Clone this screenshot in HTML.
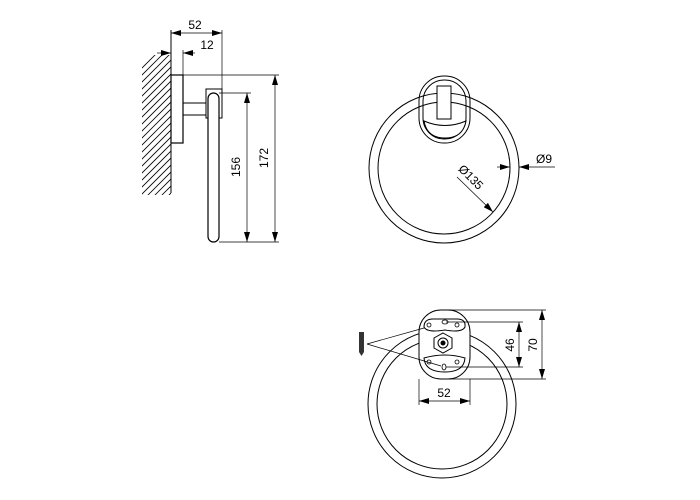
<!DOCTYPE html>
<html><head><meta charset="utf-8"><style>html,body{margin:0;padding:0;background:#fff}svg{display:block}</style></head>
<body>
<svg width="700" height="500" viewBox="0 0 700 500" xmlns="http://www.w3.org/2000/svg" font-family="Liberation Sans, sans-serif" font-size="12" fill="none" stroke="#000">
<defs>
<clipPath id="hc"><rect x="142" y="55" width="29" height="140"/></clipPath>
<marker id="a" viewBox="0 0 10 6" refX="10" refY="3" markerWidth="10" markerHeight="6" orient="auto-start-reverse" markerUnits="userSpaceOnUse"><path d="M0,0L10,3L0,6z" fill="#000" stroke="none"/></marker>
</defs>
<g clip-path="url(#hc)" stroke-width="0.8">
<path d="M130,80 L190,20 M130,87 L190,27 M130,94 L190,34 M130,101 L190,41 M130,108 L190,48 M130,115 L190,55 M130,122 L190,62 M130,129 L190,69 M130,136 L190,76 M130,143 L190,83 M130,150 L190,90 M130,157 L190,97 M130,164 L190,104 M130,171 L190,111 M130,178 L190,118 M130,185 L190,125 M130,192 L190,132 M130,199 L190,139 M130,206 L190,146 M130,213 L190,153 M130,220 L190,160 M130,227 L190,167 M130,234 L190,174 M130,241 L190,181"/>
</g>
<line x1="171" y1="30" x2="171" y2="193" stroke-width="1"/>
<rect x="171" y="75" width="12" height="68" stroke-width="1.2"/>
<rect x="183" y="103" width="23" height="12" stroke-width="1"/>
<rect x="206" y="89" width="16" height="29" stroke-width="1"/>
<rect x="208" y="93" width="11" height="149" rx="5.5" stroke-width="1.2" fill="#fff"/>
<g stroke-width="0.7">
<line x1="222" y1="30" x2="222" y2="89"/>
<line x1="183" y1="50" x2="183" y2="75"/>
<line x1="171" y1="33" x2="222" y2="33" marker-start="url(#a)" marker-end="url(#a)"/>
<line x1="157" y1="53" x2="171" y2="53" marker-end="url(#a)"/>
<line x1="195" y1="53" x2="183" y2="53" marker-end="url(#a)"/>
<line x1="183" y1="75" x2="279" y2="75"/>
<line x1="219" y1="93" x2="251" y2="93"/>
<line x1="219" y1="242" x2="279" y2="242"/>
<line x1="275" y1="75" x2="275" y2="242" marker-start="url(#a)" marker-end="url(#a)"/>
<line x1="247" y1="93" x2="247" y2="242" marker-start="url(#a)" marker-end="url(#a)"/>
</g>
<g fill="#000" stroke="none">
<text x="195" y="29" text-anchor="middle">52</text>
<text x="207" y="49" text-anchor="middle">12</text>
<text transform="translate(268,158) rotate(-90)" text-anchor="middle">172</text>
<text transform="translate(240,167) rotate(-90)" text-anchor="middle">156</text>
</g>
<g stroke-width="1">
<circle cx="444" cy="168" r="75"/>
<circle cx="444" cy="168" r="66"/>
<rect x="419" y="76" width="51" height="67" rx="25"/>
<rect x="423" y="80" width="43" height="59" rx="21"/>
<rect x="437" y="86" width="14" height="33" fill="#fff"/>
<path d="M424,121 Q445,130 466,121 Q463,138 445,138 Q427,138 424,121z" fill="#fff"/>
</g>
<g stroke-width="0.7">
<line x1="497" y1="167" x2="510" y2="167" marker-end="url(#a)"/>
<line x1="555" y1="167" x2="519" y2="167" marker-end="url(#a)"/>
<line x1="457" y1="177" x2="493" y2="212" marker-end="url(#a)"/>
</g>
<g fill="#000" stroke="none">
<text x="536" y="163">Ø9</text>
<text transform="translate(468,180) rotate(45)" text-anchor="middle">Ø135</text>
</g>
<g stroke-width="1">
<circle cx="442" cy="404" r="74"/>
<circle cx="442" cy="404" r="65"/>
<rect x="419" y="310" width="51" height="69" rx="22" fill="#fff"/>
<path d="M424,327 Q424,319 433,319 L457,319 Q466,319 465,327 Q462,333 445,330 Q427,333 424,327z"/>
<path d="M424,358 Q445,352 465,358 Q464,372 445,372 Q425,372 424,358z"/>
<polygon points="443,333 452,338 452,348 443,353 434,348 434,338"/>
<circle cx="443" cy="343" r="5"/>
</g>
<circle cx="443" cy="343" r="2.5" fill="#000" stroke="none"/>
<g stroke-width="0.8">
<circle cx="429" cy="325" r="2"/><circle cx="457" cy="325" r="2"/>
<ellipse cx="445" cy="322" rx="3" ry="2"/>
<circle cx="429" cy="362" r="2"/><circle cx="457" cy="362" r="2"/>
<ellipse cx="444" cy="367" rx="2" ry="3"/>
</g>
<rect x="359" y="332" width="5" height="20" fill="#333" stroke="none"/>
<path d="M359,352 L361.5,356 L364,352z" fill="#333" stroke="none"/>
<g stroke-width="0.7">
<line x1="367" y1="344" x2="424" y2="328"/>
<line x1="367" y1="344" x2="441" y2="366"/>
<line x1="446" y1="322" x2="523" y2="322"/>
<line x1="446" y1="367" x2="523" y2="367"/>
<line x1="519" y1="322" x2="519" y2="367" marker-start="url(#a)" marker-end="url(#a)"/>
<line x1="443" y1="310" x2="546" y2="310"/>
<line x1="443" y1="379" x2="546" y2="379"/>
<line x1="542" y1="310" x2="542" y2="379" marker-start="url(#a)" marker-end="url(#a)"/>
<line x1="419" y1="379" x2="419" y2="405"/>
<line x1="470" y1="379" x2="470" y2="405"/>
<line x1="419" y1="401" x2="470" y2="401" marker-start="url(#a)" marker-end="url(#a)"/>
</g>
<g fill="#000" stroke="none">
<text transform="translate(514,345) rotate(-90)" text-anchor="middle">46</text>
<text transform="translate(537,345) rotate(-90)" text-anchor="middle">70</text>
<text x="444" y="397" text-anchor="middle">52</text>
</g>
</svg>
</body></html>
